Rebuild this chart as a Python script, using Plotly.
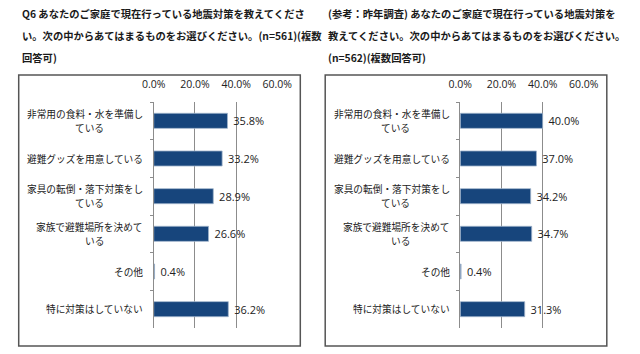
import plotly.graph_objects as go

W, H = 640, 354

categories = [["非常用の食料・水を準備し", "ている"], ["避難グッズを用意している"], ["家具の転倒・落下対策をし", "ている"],
              ["家族で避難場所を決めて", "いる"], ["その他"], ["特に対策はしていない"]]
cat_keys = ["c1", "c2", "c3", "c4", "c5", "c6"]
values_2 = [35.8, 33.2, 28.9, 26.6, 0.4, 36.2]
values_1 = [40.0, 37.0, 34.2, 34.7, 0.4, 31.3]
tick_vals = [0, 20, 40, 60]
tick_text = ["0.0%", "20.0%", "40.0%", "60.0%"]

title_left = ["Q6 あなたのご家庭で現在行っている地震対策を教えてくださ",
              "い。次の中からあてはまるものをお選びください。(n=561)(複数",
              "回答可)"]
title_right = ["(参考：昨年調査) あなたのご家庭で現在行っている地震対策を",
               "教えてください。次の中からあてはまるものをお選びください。",
               "(n=562)(複数回答可)"]

JP = "Noto Sans CJK JP"
BAR = "#17457c"
LAB_SIZE = 9.7
LINE_GAP = 14.6

def px(x):
    return x / W

def py(y):
    return 1 - y / H

y_dom = [py(328), py(102)]
panels = [
    dict(vals=values_2, x0=148, x1=277, box=(7, 75, 301, 346), title=title_left, tx=8, lab_r=139),
    dict(vals=values_1, x0=468, x1=597, box=(327, 75, 621, 346), title=title_right, tx=328, lab_r=459),
]

fig = go.Figure()
annotations = []
shapes = []
for i, p in enumerate(panels):
    sfx = "" if i == 0 else "2"
    fig.add_trace(go.Bar(
        x=p["vals"], y=cat_keys, orientation="h",
        marker=dict(color=BAR, line=dict(color="#9fb4cc", width=0.8)),
        text=[f"\u00a0{v:.1f}%" for v in p["vals"]], textposition="outside",
        textfont=dict(family="Open Sans", size=11, color="#222"),
        cliponaxis=False, xaxis="x" + sfx, yaxis="y" + sfx, showlegend=False,
    ))
    fig.layout["xaxis" + sfx] = dict(
        domain=[px(p["x0"]), px(p["x1"])], range=[0, 60], side="top",
        anchor="y" + sfx, tickvals=tick_vals, ticktext=tick_text,
        tickfont=dict(family="Open Sans", size=10.5, color="#222"),
        showgrid=True, gridcolor="#8c8c8c", gridwidth=1,
        zeroline=False, showline=False, ticks="", ticklabelstandoff=11,
    )
    fig.layout["yaxis" + sfx] = dict(
        domain=y_dom, anchor="x" + sfx, type="category",
        categoryorder="array", categoryarray=cat_keys, autorange="reversed",
        showticklabels=False, ticks="outside", tickson="boundaries",
        ticklen=3, tickcolor="#8c8c8c", showline=True, linecolor="#8c8c8c",
        linewidth=1, showgrid=False,
    )
    for k, lines in zip(cat_keys, categories):
        n = len(lines)
        centre = p["lab_r"] - len(lines[0]) * LAB_SIZE / 2
        for j, ln in enumerate(lines):
            shift = (n - 1) * LINE_GAP / 2 - j * LINE_GAP
            annotations.append(dict(
                x=px(p["lab_r"] if j == 0 else centre), xref="paper",
                xanchor="right" if j == 0 else "center",
                y=k, yref="y" + sfx, yshift=shift,
                text=ln, showarrow=False,
                font=dict(family=JP, size=LAB_SIZE, color="#222"),
            ))
    bx0, by0, bx1, by1 = p["box"]
    shapes.append(dict(type="rect", xref="paper", yref="paper",
                       x0=px(bx0), x1=px(bx1), y0=py(by1), y1=py(by0),
                       line=dict(color="#555", width=1.5)))
    for j, line in enumerate(p["title"]):
        annotations.append(dict(
            x=px(p["tx"]), xref="paper", xanchor="left", y=py(13 + 22 * j), yref="paper",
            yanchor="middle", text="<b>" + line + "</b>", showarrow=False,
            font=dict(family=JP, size=10.3, color="#1a1a1a"),
        ))

fig.update_layout(
    width=W, height=H, margin=dict(l=0, r=0, t=0, b=0),
    paper_bgcolor="white", plot_bgcolor="white",
    bargap=0.6, annotations=annotations, shapes=shapes,
)
fig.write_html("out.html")
